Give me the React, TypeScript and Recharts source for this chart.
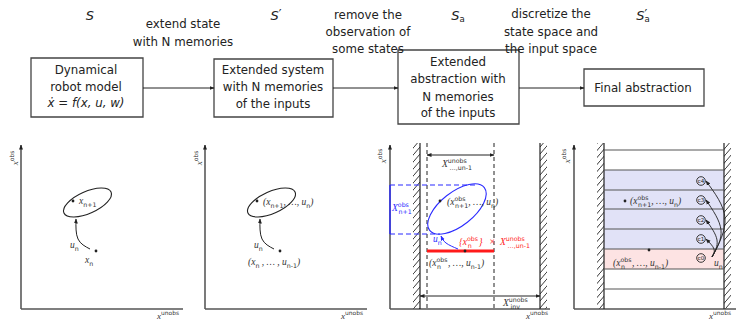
import React from "react";
import {
  ComposedChart,
  XAxis,
  YAxis,
  Line,
  Scatter,
  ReferenceArea,
  Customized,
} from "recharts";

// Whole figure lives in one chart whose axes run in figure units (0..736 × 0..321).
const W = 736;
const H = 321;
const SANS = "'DejaVu Sans', sans-serif";
const SERIF = "'Liberation Serif', 'DejaVu Serif', serif";
const RED = "#ff1a1a";
const BLUE = "#2b2bff";
const INK = "#222";

type Pt = { x: number; y: number };
type Note = { x: number; y: number; s: string };

// ---------- top flow chart ----------
const stageSymbols: Note[] = [
  { x: 90, y: 15, s: "S" },
  { x: 276, y: 15, s: "S^{′}" },
  { x: 458, y: 15, s: "S_{a}" },
  { x: 643, y: 15, s: "S^{′}_{a}" },
];

const captionLines: Note[] = [
  { x: 183, y: 24, s: "extend state" },
  { x: 183, y: 42, s: "with N memories" },
  { x: 368, y: 15, s: "remove the" },
  { x: 368, y: 32, s: "observation of" },
  { x: 368, y: 49, s: "some states" },
  { x: 551, y: 14, s: "discretize the" },
  { x: 551, y: 32, s: "state space and" },
  { x: 551, y: 49, s: "the input space" },
];

const boxLines: Note[] = [
  { x: 86, y: 70, s: "Dynamical" },
  { x: 86, y: 87, s: "robot model" },
  { x: 273, y: 70, s: "Extended system" },
  { x: 273, y: 87, s: "with N memories" },
  { x: 273, y: 104, s: "of the inputs" },
  { x: 458, y: 62, s: "Extended" },
  { x: 458, y: 79, s: "abstraction with" },
  { x: 458, y: 97, s: "N memories" },
  { x: 458, y: 113, s: "of the inputs" },
  { x: 643, y: 88, s: "Final abstraction" },
];

const formulaLines: Note[] = [{ x: 86, y: 103, s: "ẋ = f(x, u, w)" }];

const boxes = [
  { x1: 31, x2: 143, y1: 58, y2: 117 },
  { x1: 214, x2: 333, y1: 59, y2: 117 },
  { x1: 398, x2: 519, y1: 50, y2: 124 },
  { x1: 584, x2: 704, y1: 69, y2: 106 },
];

const flowArrows: Pt[][] = [
  [{ x: 143, y: 88 }, { x: 214, y: 88 }],
  [{ x: 333, y: 88 }, { x: 398, y: 88 }],
  [{ x: 519, y: 88 }, { x: 584, y: 88 }],
];

// ---------- bottom sketches ----------
const yAxes: Pt[][] = [
  [{ x: 21, y: 309 }, { x: 21, y: 145 }],
  [{ x: 205, y: 309 }, { x: 205, y: 145 }],
  [{ x: 390, y: 309 }, { x: 390, y: 145 }],
  [{ x: 574, y: 309 }, { x: 574, y: 145 }],
];
const xAxes: Pt[][] = [
  [{ x: 21, y: 309 }, { x: 183, y: 309 }],
  [{ x: 205, y: 309 }, { x: 367, y: 309 }],
  [{ x: 390, y: 309 }, { x: 550, y: 309 }],
  [{ x: 574, y: 309 }, { x: 736, y: 309 }],
];

const walls = [
  { x1: 413, x2: 420 },
  { x1: 540, x2: 547 },
  { x1: 597, x2: 604 },
  { x1: 724, x2: 731 },
];
const wallLines: Pt[][] = [
  [{ x: 420, y: 143 }, { x: 420, y: 309 }],
  [{ x: 540, y: 143 }, { x: 540, y: 309 }],
  [{ x: 604, y: 143 }, { x: 604, y: 309 }],
  [{ x: 724, y: 143 }, { x: 724, y: 309 }],
];

const dashedLines: Pt[][] = [
  [{ x: 427, y: 143 }, { x: 427, y: 309 }],
  [{ x: 494, y: 143 }, { x: 494, y: 309 }],
];
const spanArrows: Pt[][] = [
  [{ x: 427, y: 155 }, { x: 494, y: 155 }],
  [{ x: 420, y: 296 }, { x: 540, y: 296 }],
];

const blueDashed: Pt[][] = [
  [{ x: 390, y: 185 }, { x: 477, y: 185 }],
  [{ x: 390, y: 234 }, { x: 440, y: 234 }],
];
const blueEdge: Pt[] = [{ x: 390, y: 185 }, { x: 390, y: 234 }];
const redSpan: Pt[] = [{ x: 427, y: 251 }, { x: 494, y: 251 }];

// reachable-set outlines (closed B-spline control polygons)
const reachSet1: Pt[] = [
  { x: 113.6, y: 190.9 }, { x: 109.5, y: 202.1 }, { x: 92.4, y: 213.6 }, { x: 72.5, y: 218.5 },
  { x: 61.4, y: 214.1 }, { x: 65.5, y: 202.9 }, { x: 82.6, y: 191.4 }, { x: 102.5, y: 186.5 },
];
const reachSet2: Pt[] = [
  { x: 297.6, y: 190.9 }, { x: 293.5, y: 202.1 }, { x: 276.4, y: 213.6 }, { x: 256.5, y: 218.5 },
  { x: 245.4, y: 214.1 }, { x: 249.5, y: 202.9 }, { x: 266.6, y: 191.4 }, { x: 286.5, y: 186.5 },
];
const reachSet3: Pt[] = [
  { x: 487.3, y: 185.3 }, { x: 486.5, y: 202.6 }, { x: 468.5, y: 223.7 }, { x: 443.7, y: 236.2 },
  { x: 426.7, y: 232.7 }, { x: 427.5, y: 215.4 }, { x: 445.5, y: 194.3 }, { x: 470.3, y: 181.8 },
];

const inputPaths: Pt[][] = [
  [{ x: 90, y: 249 }, { x: 78, y: 239 }, { x: 76, y: 219 }],
  [{ x: 274, y: 249 }, { x: 262, y: 239 }, { x: 260, y: 219 }],
];
const blueInput: Pt[] = [{ x: 458, y: 249 }, { x: 446, y: 243 }, { x: 441, y: 236 }];

// discretised cells in the last sketch
const cellRows = [150, 170, 190, 209, 229, 249, 269, 289];
const memoryBand = { y1: 170, y2: 249 };
const currentBand = { y1: 249, y2: 269 };
const cellCodes = [
  { x: 701, y: 258, s: "c0" },
  { x: 701, y: 239, s: "c1" },
  { x: 701, y: 220, s: "c2" },
  { x: 701, y: 200, s: "c3" },
  { x: 701, y: 181, s: "c4" },
];
const cellJumps: Pt[][] = [
  [{ x: 712, y: 257 }, { x: 714, y: 249 }, { x: 706, y: 239 }],
  [{ x: 712, y: 257 }, { x: 717, y: 240 }, { x: 706, y: 220 }],
  [{ x: 712, y: 257 }, { x: 721, y: 230 }, { x: 706, y: 200 }],
  [{ x: 712, y: 257 }, { x: 725, y: 218 }, { x: 706, y: 181 }],
];

const stateDots: Pt[] = [
  { x: 73, y: 201 }, { x: 96, y: 251 },
  { x: 257, y: 201 }, { x: 280, y: 251 },
  { x: 440, y: 201 }, { x: 465, y: 251 },
  { x: 625, y: 201 }, { x: 649, y: 250 },
];

const sketchNotes: Note[] = [
  { x: 79, y: 201, s: "x_{n+1}" },
  { x: 70, y: 245, s: "u_{n}" },
  { x: 85, y: 260, s: "x_{n}" },
  { x: 263, y: 202, s: "(x_{n+1}, …, u_{n})" },
  { x: 254, y: 245, s: "u_{n}" },
  { x: 248, y: 262, s: "(x_{n} , … , u_{n-1})" },
  { x: 447, y: 202, s: "(x^{obs}_{n+1}, …, u_{n})" },
  { x: 429, y: 263, s: "(x^{obs}_{n}, …, u_{n-1})" },
  { x: 442, y: 164, s: "X^{unobs}_{…,un-1}" },
  { x: 503, y: 303, s: "X^{unobs}_{inv}" },
  { x: 630, y: 201, s: "(x^{obs}_{n+1}, …, u_{n})" },
  { x: 613, y: 263, s: "(x^{obs}_{n}, …, u_{n-1})" },
  { x: 714, y: 263, s: "u_{n}" },
];
const redNotes: Note[] = [
  { x: 459, y: 242, s: "{x^{obs}_{n}}" },
  { x: 489, y: 242, s: "×" },
  { x: 500, y: 242, s: "X^{unobs}_{…,un-1}" },
];
const blueNotes: Note[] = [
  { x: 392, y: 208, s: "X^{obs}_{n+1}" },
  { x: 433, y: 239, s: "u_{n}" },
];
const axisNotes: Note[] = [
  { x: 168, y: 316, s: "x^{unobs}" },
  { x: 352, y: 316, s: "x^{unobs}" },
  { x: 537, y: 316, s: "x^{unobs}" },
  { x: 720, y: 316, s: "x^{unobs}" },
];
const axisNotesV: Note[] = [
  { x: 15, y: 158, s: "x^{obs}" },
  { x: 199, y: 158, s: "x^{obs}" },
  { x: 383, y: 156, s: "x^{obs}" },
  { x: 567, y: 156, s: "x^{obs}" },
];

// ---------- tiny TeX-ish text ----------
type Seg = { t: string; k: "n" | "b" | "p" | "k" };
function parse(src: string): Seg[] {
  const out: Seg[] = [];
  let buf = "";
  let i = 0;
  while (i < src.length) {
    const c = src[i];
    if ((c === "_" || c === "^") && src[i + 1] === "{") {
      if (buf) { out.push({ t: buf, k: "n" }); buf = ""; }
      const j = src.indexOf("}", i);
      const prev = out[out.length - 1];
      const k = c === "^" ? "p" : prev && prev.k === "p" ? "k" : "b";
      out.push({ t: src.slice(i + 2, j), k });
      i = j + 1;
    } else {
      buf += c;
      i++;
    }
  }
  if (buf) out.push({ t: buf, k: "n" });
  return out;
}

function rich(src: string, size: number, mainItalic: boolean, scriptFont: string) {
  let cur = 0;
  let supW = 0;
  let pad = 0;
  return parse(src).map((sg, i) => {
    const script = sg.k !== "n";
    const prime = sg.t === "′";
    const fs = prime ? size * 0.95 : script ? size * 0.66 : size;
    const target = prime ? -size * 0.05 : sg.k === "p" ? -size * 0.42 : script ? size * 0.3 : 0;
    const dy = target - cur;
    cur = target;
    const w = prime ? size * 0.2 : sg.t.length * fs * 0.55;
    let dx = pad;
    pad = 0;
    if (sg.k === "p") supW = w;
    if (sg.k === "k") {
      dx = -supW;
      if (supW > w) pad = supW - w;
    }
    return (
      <tspan
        key={i}
        dy={dy || undefined}
        dx={dx || undefined}
        fontSize={fs}
        fontStyle={!script && mainItalic ? "italic" : "normal"}
        fontFamily={script && !prime ? scriptFont : undefined}
      >
        {sg.t}
      </tspan>
    );
  });
}

const textShape =
  (size: number, color: string, family: string, anchor: "start" | "middle", italic: boolean, scriptFont: string, rotate = false) =>
  (props: any) => {
    const { cx, cy, payload } = props;
    return (
      <text
        x={cx}
        y={cy}
        fill={color}
        fontSize={size}
        fontFamily={family}
        textAnchor={anchor}
        dominantBaseline="central"
        style={{ whiteSpace: "pre" }}
        transform={rotate ? `rotate(-90 ${cx} ${cy})` : undefined}
      >
        {rich(payload.s, size, italic, scriptFont)}
      </text>
    );
  };

const dotShape = (props: any) => <circle cx={props.cx} cy={props.cy} r={1.4} fill={INK} />;
const codeShape = (props: any) => (
  <g>
    <circle cx={props.cx} cy={props.cy} r={4.3} fill="none" stroke={INK} strokeWidth={0.9} />
    <text x={props.cx} y={props.cy} fontSize={5.5} fontFamily={SANS} fill={INK} textAnchor="middle" dominantBaseline="central">
      {props.payload.s}
    </text>
  </g>
);

const Defs = () => (
  <defs>
    <marker id="ahK" viewBox="0 0 10 10" refX="9" refY="5" markerWidth="5" markerHeight="5" markerUnits="userSpaceOnUse" orient="auto-start-reverse">
      <path d="M0,1 L10,5 L0,9 z" fill={INK} />
    </marker>
    <marker id="ahB" viewBox="0 0 10 10" refX="9" refY="5" markerWidth="5" markerHeight="5" markerUnits="userSpaceOnUse" orient="auto-start-reverse">
      <path d="M0,1 L10,5 L0,9 z" fill={BLUE} />
    </marker>
    <pattern id="hatch" patternUnits="userSpaceOnUse" width="6" height="7">
      <path d="M0,7 L6,0" stroke={INK} strokeWidth="0.9" />
    </pattern>
  </defs>
);

const seg = (pts: Pt[], key: string, extra: any = {}) => (
  <Line
    key={key}
    data={pts}
    dataKey="y"
    type="linear"
    stroke={INK}
    strokeWidth={1}
    dot={false}
    activeDot={false}
    legendType="none"
    isAnimationActive={false}
    {...extra}
  />
);

export default function App() {
  return (
    <div style={{ position: "absolute", left: 0, top: 0, width: W, height: H, background: "#fff" }}>
      <ComposedChart width={W} height={H} margin={{ top: 0, right: 0, bottom: 0, left: 0 }}>
        <Customized component={Defs} />
        <XAxis type="number" dataKey="x" domain={[0, W]} hide />
        <YAxis type="number" dataKey="y" domain={[0, H]} reversed hide />

        {boxes.map((b, i) => (
          <ReferenceArea key={`box${i}`} {...b} fill="#fff" fillOpacity={1} stroke="#444" strokeWidth={1.3} />
        ))}
        <ReferenceArea x1={604} x2={724} {...memoryBand} fill="#e1e2f7" fillOpacity={1} stroke="none" />
        <ReferenceArea x1={604} x2={724} {...currentBand} fill="#fde3e3" fillOpacity={1} stroke="none" />
        {walls.map((w, i) => (
          <ReferenceArea key={`wall${i}`} {...w} y1={143} y2={309} fill="url(#hatch)" fillOpacity={1} stroke="none" />
        ))}

        {flowArrows.map((p, i) => seg(p, `fa${i}`, { markerEnd: "url(#ahK)" }))}
        {yAxes.map((p, i) => seg(p, `ya${i}`, { stroke: "#333", strokeWidth: 1.3, markerEnd: "url(#ahK)" }))}
        {xAxes.map((p, i) => seg(p, `xa${i}`, { stroke: "#555", strokeWidth: 1.6 }))}
        {wallLines.map((p, i) => seg(p, `wl${i}`, { strokeWidth: 1.2 }))}
        {dashedLines.map((p, i) => seg(p, `dl${i}`, { strokeDasharray: "4 3" }))}
        {spanArrows.map((p, i) => seg(p, `sa${i}`, { markerStart: "url(#ahK)", markerEnd: "url(#ahK)" }))}
        {cellRows.map((y, i) =>
          seg([{ x: 604, y }, { x: 724, y }], `row${i}`, { stroke: "#555", strokeWidth: 1.2 })
        )}
        {blueDashed.map((p, i) => seg(p, `bd${i}`, { stroke: BLUE, strokeWidth: 1.2, strokeDasharray: "5 3" }))}
        {seg(blueEdge, "be", { stroke: BLUE, strokeWidth: 1.4 })}
        {seg(redSpan, "red", { stroke: RED, strokeWidth: 3 })}

        {seg(reachSet1, "rs1", { type: "basisClosed", strokeWidth: 1.1 })}
        {seg(reachSet2, "rs2", { type: "basisClosed", strokeWidth: 1.1 })}
        {seg(reachSet3, "rs3", { type: "basisClosed", stroke: BLUE, strokeWidth: 1.1 })}
        {inputPaths.map((p, i) => seg(p, `ip${i}`, { type: "natural", markerEnd: "url(#ahK)" }))}
        {seg(blueInput, "bi", { type: "natural", stroke: BLUE, markerEnd: "url(#ahB)" })}
        {cellJumps.map((p, i) => seg(p, `cj${i}`, { type: "natural", strokeWidth: 0.9, markerEnd: "url(#ahK)" }))}

        <Scatter data={stateDots} shape={dotShape} isAnimationActive={false} />
        <Scatter data={cellCodes} shape={codeShape} isAnimationActive={false} />

        <Scatter data={stageSymbols} shape={textShape(13, INK, SANS, "middle", true, SANS)} isAnimationActive={false} />
        <Scatter data={captionLines} shape={textShape(11.8, INK, SANS, "middle", false, SANS)} isAnimationActive={false} />
        <Scatter data={boxLines} shape={textShape(11.8, INK, SANS, "middle", false, SANS)} isAnimationActive={false} />
        <Scatter data={formulaLines} shape={textShape(11.8, INK, SANS, "middle", true, SANS)} isAnimationActive={false} />
        <Scatter data={sketchNotes} shape={textShape(9.5, "#333", SERIF, "start", true, SANS)} isAnimationActive={false} />
        <Scatter data={redNotes} shape={textShape(9.5, RED, SERIF, "start", true, SANS)} isAnimationActive={false} />
        <Scatter data={blueNotes} shape={textShape(9.5, BLUE, SERIF, "start", true, SANS)} isAnimationActive={false} />
        <Scatter data={axisNotes} shape={textShape(9, "#333", SERIF, "middle", true, SANS)} isAnimationActive={false} />
        <Scatter data={axisNotesV} shape={textShape(9, "#333", SERIF, "middle", true, SANS, true)} isAnimationActive={false} />
      </ComposedChart>
    </div>
  );
}
